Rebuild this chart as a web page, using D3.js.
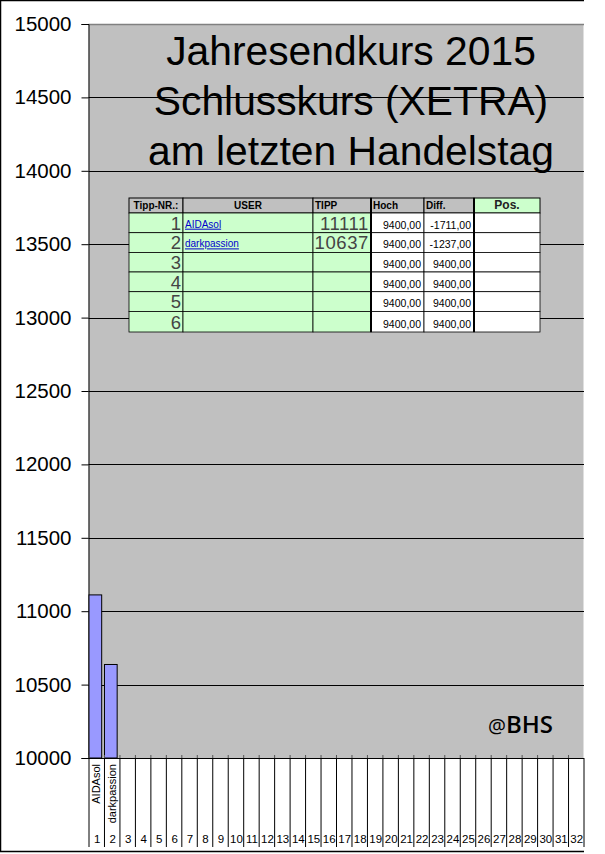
<!DOCTYPE html>
<html>
<head>
<meta charset="utf-8">
<script src="https://cdn.jsdelivr.net/npm/d3@7"></script>
<style>
  body { margin: 0; background: #fff; }
  text { font-family: "Liberation Sans", Arial, sans-serif; }
</style>
</head>
<body>
<svg id="chart" width="605" height="854"></svg>
<script>
// ── data ────────────────────────────────────────────────────────────────
const categories = [1, 2, 3, 4, 5, 6, 7, 8, 9, 10, 11, 12, 13, 14, 15, 16,
                    17, 18, 19, 20, 21, 22, 23, 24, 25, 26, 27, 28, 29, 30, 31, 32];
const userNames  = ["AIDAsol", "darkpassion"];
const tippValues = [11111, 10637];
const yTicks     = [10000, 10500, 11000, 11500, 12000, 12500, 13000, 13500, 14000, 14500, 15000];
const titleLines = ["Jahresendkurs 2015", "Schlusskurs (XETRA)", "am letzten Handelstag"];

// table on top of the chart
const tableHeader = ["Tipp-NR.:", "USER", "TIPP", "Hoch", "Diff.", "Pos."];
const tableNr     = [1, 2, 3, 4, 5, 6];
const tableUser   = ["AIDAsol", "darkpassion", "", "", "", ""];
const tableTipp   = ["11111", "10637", "", "", "", ""];
const tableHoch   = ["9400,00", "9400,00", "9400,00", "9400,00", "9400,00", "9400,00"];
const tableDiff   = ["-1711,00", "-1237,00", "9400,00", "9400,00", "9400,00", "9400,00"];

// ── layout ──────────────────────────────────────────────────────────────
const svg = d3.select("#chart");
const plot = { left: 88.5, right: 583.5, top: 24, bottom: 758 };
const frameRight = 584;

const x = d3.scaleBand()
  .domain(categories)
  .range([plot.left, plot.right])
  .padding(0);

const y = d3.scaleLinear()
  .domain([10000, 15000])
  .range([plot.bottom, plot.top]);

// outer frame (left, top, bottom – the picture is cut off on the right)
svg.append("path")
  .attr("d", `M${frameRight},0.5 H0.5 V851.5 H${frameRight}`)
  .attr("fill", "none").attr("stroke", "#000").attr("stroke-width", 1.5);

// plot area
svg.append("rect")
  .attr("x", plot.left).attr("y", plot.top)
  .attr("width", plot.right - plot.left).attr("height", plot.bottom - plot.top)
  .attr("fill", "#c0c0c0");
svg.append("line")
  .attr("x1", plot.left).attr("x2", frameRight)
  .attr("y1", plot.top + 0.5).attr("y2", plot.top + 0.5)
  .attr("stroke", "#808080").attr("stroke-width", 1.5);

// gridlines
svg.append("g")
  .selectAll("line")
  .data(yTicks.filter(t => t > 10000 && t < 15000))
  .join("line")
    .attr("x1", plot.left).attr("x2", frameRight)
    .attr("y1", d => Math.round(y(d)) + 0.5).attr("y2", d => Math.round(y(d)) + 0.5)
    .attr("stroke", "#000");

// y axis
const yAxis = svg.append("g")
  .attr("transform", `translate(${plot.left},0)`)
  .call(d3.axisLeft(y).tickValues(yTicks).tickSize(7).tickPadding(10).tickFormat(d3.format("d")));
yAxis.select(".domain").attr("stroke", "#000");
yAxis.selectAll("text")
  .attr("font-size", 20.5)
  .attr("fill", "#000")
  .style("font-family", "'Liberation Sans', Arial, sans-serif");

// bars
svg.append("g")
  .selectAll("rect")
  .data(tippValues)
  .join("rect")
    .attr("x", (d, i) => x(categories[i]) + 0.5)
    .attr("y", d => y(d))
    .attr("width", x.bandwidth() * 0.82)
    .attr("height", d => plot.bottom - y(d))
    .attr("fill", "#9999ff")
    .attr("stroke", "#000").attr("stroke-width", 1);

// x axis line + tiny tick marks at the category boundaries
svg.append("line")
  .attr("x1", plot.left).attr("x2", frameRight)
  .attr("y1", plot.bottom + 0.5).attr("y2", plot.bottom + 0.5)
  .attr("stroke", "#000").attr("stroke-width", 1.2);
svg.append("g")
  .selectAll("line")
  .data(categories)
  .join("line")
    .attr("x1", d => x(d) + 0.5).attr("x2", d => x(d) + 0.5)
    .attr("y1", plot.bottom - 3).attr("y2", plot.bottom)
    .attr("stroke", "#555");

// category table below the axis
const catG = svg.append("g");
catG.selectAll("line.sep")
  .data(categories.concat(["end"]))
  .join("line")
    .attr("class", "sep")
    .attr("x1", d => (d === "end" ? plot.right : x(d)) + 0.5)
    .attr("x2", d => (d === "end" ? plot.right : x(d)) + 0.5)
    .attr("y1", plot.bottom).attr("y2", 847)
    .attr("stroke", "#000");
catG.selectAll("text.num")
  .data(categories)
  .join("text")
    .attr("class", "num")
    .attr("x", d => x(d) + x.bandwidth() / 2 + 1)
    .attr("y", 843)
    .attr("text-anchor", "middle")
    .attr("font-size", 11.5)
    .text(d => d);
catG.selectAll("text.name")
  .data(userNames)
  .join("text")
    .attr("class", "name")
    .attr("transform", (d, i) => `translate(${x(categories[i]) + x.bandwidth() / 2 + 4},${plot.bottom + 6}) rotate(-90)`)
    .attr("text-anchor", "end")
    .attr("font-size", 11)
    .text(d => d);

// title
svg.append("g")
  .selectAll("text")
  .data(titleLines)
  .join("text")
    .attr("x", 351)
    .attr("y", (d, i) => 65 + i * 50)
    .attr("text-anchor", "middle")
    .attr("font-size", 40.8)
    .attr("fill", "#000")
    .text(d => d);

// watermark
svg.append("text")
  .attr("x", 553).attr("y", 733)
  .attr("text-anchor", "end")
  .style("font-family", "'Open Sans', 'DejaVu Sans', sans-serif")
  .attr("font-size", 24)
  .attr("font-weight", 600)
  .attr("fill", "#000")
  .html('<tspan font-size="20" font-weight="400">@</tspan>BHS');

// ── tippspiel table ─────────────────────────────────────────────────────
const colEdges = [129, 183, 313, 371, 424, 474, 540];
const rowEdges = [198, 213, 232.7, 252.4, 272, 291.7, 311.4, 332];
const tbl = svg.append("g");

const colW = i => colEdges[i + 1] - colEdges[i];

// header row
tableHeader.forEach((h, c) => {
  tbl.append("rect")
    .attr("x", colEdges[c]).attr("y", rowEdges[0])
    .attr("width", colW(c)).attr("height", rowEdges[1] - rowEdges[0])
    .attr("fill", c === 5 ? "#ccffcc" : "#c0c0c0")
    .attr("stroke", "#000").attr("stroke-width", 1);
  const anchor = (c === 2 || c === 3 || c === 4) ? "start" : "middle";
  tbl.append("text")
    .attr("x", anchor === "start" ? colEdges[c] + 2 : colEdges[c] + colW(c) / 2)
    .attr("y", rowEdges[0] + 11)
    .attr("text-anchor", anchor)
    .attr("font-size", c === 5 ? 12 : 10)
    .attr("font-weight", "bold")
    .attr("fill", c === 5 ? "#222" : "#000")
    .text(h);
});

// body rows
tableNr.forEach((nr, r) => {
  const top = rowEdges[r + 1], h = rowEdges[r + 2] - top;
  for (let c = 0; c < 6; c++) {
    tbl.append("rect")
      .attr("x", colEdges[c]).attr("y", top)
      .attr("width", colW(c)).attr("height", h)
      .attr("fill", c < 3 ? "#ccffcc" : "#ffffff")
      .attr("stroke", "#000").attr("stroke-width", 0.8);
  }
  const base = top + h - 3;
  tbl.append("text")
    .attr("x", colEdges[1] - 2).attr("y", base)
    .attr("text-anchor", "end").attr("font-size", 18.5).attr("fill", "#444")
    .text(nr);
  if (tableUser[r]) {
    tbl.append("text")
      .attr("x", colEdges[1] + 2).attr("y", base - 2)
      .attr("font-size", 10).attr("fill", "#0000cc")
      .attr("text-decoration", "underline")
      .text(tableUser[r]);
  }
  if (tableTipp[r]) {
    tbl.append("text")
      .attr("x", colEdges[3] - 2).attr("y", base)
      .attr("text-anchor", "end").attr("font-size", 18.5).attr("fill", "#444")
      .attr("letter-spacing", 0.6)
      .text(tableTipp[r]);
  }
  tbl.append("text")
    .attr("x", colEdges[4] - 3).attr("y", base - 1)
    .attr("text-anchor", "end").attr("font-size", 10.5)
    .text(tableHoch[r]);
  tbl.append("text")
    .attr("x", colEdges[5] - 3).attr("y", base - 1)
    .attr("text-anchor", "end").attr("font-size", 10.5)
    .text(tableDiff[r]);
});

// thicker separators
[colEdges[3], colEdges[5]].forEach(xx => {
  tbl.append("line")
    .attr("x1", xx).attr("x2", xx)
    .attr("y1", rowEdges[0]).attr("y2", rowEdges[rowEdges.length - 1])
    .attr("stroke", "#000").attr("stroke-width", 2);
});
</script>
</body>
</html>
